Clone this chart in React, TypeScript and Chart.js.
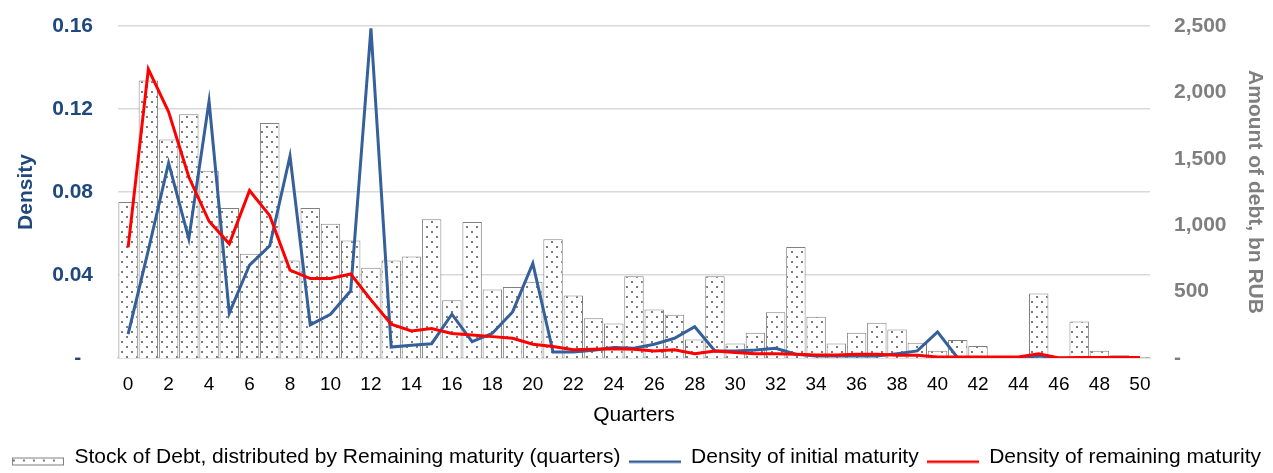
import React, { useEffect, useRef } from 'react';
import { Chart, registerables } from 'chart.js';

Chart.register(...registerables);

const quarters = [
  0, 1, 2, 3, 4, 5, 6, 7, 8, 9, 10, 11, 12, 13, 14, 15, 16, 17, 18, 19, 20,
  21, 22, 23, 24, 25, 26, 27, 28, 29, 30, 31, 32, 33, 34, 35, 36, 37, 38, 39, 40,
  41, 42, 43, 44, 45, 46, 47, 48, 49, 50,
];

// Stock of debt by remaining maturity, bn RUB (right axis)
const stockDebt = [
  1175, 2090, 1645, 1835, 1410, 1130, 785, 1770, 735, 1130, 1010,
  885, 680, 735, 765, 1045, 435, 1025, 515, 535, 575,
  895, 470, 300, 260, 615, 365, 325, 140, 615, 110,
  190, 345, 835, 310, 110, 190, 265, 215, 115, 55,
  135, 90, 3, 6, 485, 10, 275, 55, 20, 5,
];

// Density of initial maturity (left axis)
const densityInitial = [
  0.0115, 0.052, 0.094, 0.0574, 0.1237, 0.0216, 0.0448, 0.0541, 0.0973, 0.016, 0.0211,
  0.0324, 0.1589, 0.0053, 0.0062, 0.0069, 0.0211, 0.0079, 0.0119, 0.0222, 0.0456,
  0.0029, 0.0029, 0.0037, 0.005, 0.0047, 0.0066, 0.0095, 0.0151, 0.0034, 0.0034,
  0.0039, 0.0047, 0.0018, 0.001, 0.001, 0.001, 0.001, 0.0021, 0.0034, 0.0126,
  0.0, 0.0, 0.0, 0.0, 0.001, 0.0, 0.0, 0.0, 0.0, 0.0,
];

// Density of remaining maturity (left axis)
const densityRemaining = [
  0.0533, 0.1392, 0.1186, 0.0872, 0.0659, 0.055, 0.0807, 0.0686, 0.0424, 0.0383, 0.0383,
  0.0405, 0.028, 0.0163, 0.013, 0.0142, 0.0118, 0.0111, 0.0103, 0.0095, 0.0066,
  0.0055, 0.004, 0.0042, 0.0045, 0.0042, 0.0034, 0.004, 0.0021, 0.0034, 0.0026,
  0.0021, 0.0021, 0.0018, 0.0015, 0.0015, 0.0018, 0.0018, 0.0013, 0.0013, 0.0005,
  0.0005, 0.0005, 0.0005, 0.0005, 0.002, 0.0, 0.0003, 0.0003, 0.0003, 0.0003,
];

const leftTicks = [0, 0.04, 0.08, 0.12, 0.16];
const rightTicks = [0, 500, 1000, 1500, 2000, 2500];

const seriesLabels = [
  'Stock of Debt, distributed by Remaining maturity (quarters)',
  'Density of initial maturity',
  'Density of remaining maturity',
];

const BLUE_TEXT = '#1F497D';
const BLUE_LINE = '#36609A';
const RED_LINE = '#FF0000';
const GRAY_TEXT = '#7F7F7F';
const GRID = '#D9D9D9';
const BAR_BORDER = '#808080';
const FONT = '"Liberation Sans", Arial, Helvetica, sans-serif';

function makePattern(): CanvasPattern | string {
  const c = document.createElement('canvas');
  c.width = 10;
  c.height = 10;
  const g = c.getContext('2d');
  if (!g) return '#eeeeee';
  g.fillStyle = '#ffffff';
  g.fillRect(0, 0, 10, 10);
  g.fillStyle = '#7a7a7a';
  g.fillRect(1, 1, 2, 2);
  g.fillRect(6, 6, 2, 2);
  return g.createPattern(c, 'repeat') || '#eeeeee';
}

function legendBoxImage(pattern: CanvasPattern | string): HTMLCanvasElement {
  const c = document.createElement('canvas');
  c.width = 52;
  c.height = 18;
  const g = c.getContext('2d');
  if (g) {
    g.fillStyle = pattern as any;
    g.fillRect(0.5, 9.5, 51, 7);
    g.strokeStyle = BAR_BORDER;
    g.lineWidth = 1;
    g.strokeRect(0.5, 9.5, 51, 7);
  }
  return c;
}

function legendLineImage(color: string): HTMLCanvasElement {
  const c = document.createElement('canvas');
  c.width = 52;
  c.height = 18;
  const g = c.getContext('2d');
  if (g) {
    g.fillStyle = color;
    g.fillRect(0, 12, 52, 2.5);
  }
  return c;
}

export default function App() {
  const canvasRef = useRef<HTMLCanvasElement | null>(null);

  useEffect(() => {
    document.body.style.margin = '0';
    const canvas = canvasRef.current;
    if (!canvas) return;
    Chart.defaults.font.family = FONT;

    const pattern = makePattern();
    const legendImages = [
      legendBoxImage(pattern),
      legendLineImage(BLUE_LINE),
      legendLineImage(RED_LINE),
    ];

    const chart = new Chart(canvas, {
      type: 'bar',
      data: {
        labels: quarters.map(String),
        datasets: [
          {
            type: 'bar',
            label: seriesLabels[0],
            data: stockDebt,
            yAxisID: 'y1',
            backgroundColor: pattern as any,
            borderColor: BAR_BORDER,
            borderWidth: 1,
            barPercentage: 0.96,
            categoryPercentage: 1,
            order: 2,
          },
          {
            type: 'line',
            label: seriesLabels[1],
            data: densityInitial,
            yAxisID: 'y',
            borderColor: BLUE_LINE,
            backgroundColor: BLUE_LINE,
            borderWidth: 3,
            pointRadius: 0,
            tension: 0,
            order: 1,
          },
          {
            type: 'line',
            label: seriesLabels[2],
            data: densityRemaining,
            yAxisID: 'y',
            borderColor: RED_LINE,
            backgroundColor: RED_LINE,
            borderWidth: 3,
            pointRadius: 0,
            tension: 0,
            order: 0,
          },
        ] as any,
      },
      options: {
        responsive: false,
        animation: false,
        devicePixelRatio: 1,
        layout: { padding: { top: 26, bottom: -5, left: 0, right: 0 } },
        plugins: {
          tooltip: { enabled: false },
          legend: {
            position: 'bottom',
            labels: {
              usePointStyle: true,
              pointStyleWidth: 52,
              boxWidth: 52,
              padding: 8,
              color: '#000000',
              font: { size: 21, family: FONT },
              generateLabels: () =>
                seriesLabels.map((text, i) => ({
                  text,
                  datasetIndex: i,
                  pointStyle: legendImages[i] as any,
                  fillStyle: 'rgba(0,0,0,0)',
                  strokeStyle: 'rgba(0,0,0,0)',
                  lineWidth: 0,
                  hidden: false,
                  fontColor: '#000000',
                })),
            },
          },
        },
        scales: {
          x: {
            type: 'category',
            offset: true,
            grid: { display: false, drawTicks: false },
            border: { display: true, color: GRID, width: 1.5 },
            ticks: {
              autoSkip: false,
              maxRotation: 0,
              minRotation: 0,
              padding: 15,
              color: '#000000',
              font: { size: 19, family: FONT },
              callback: (_v: any, i: number) => (i % 2 === 0 ? String(quarters[i]) : ''),
            },
            title: {
              display: true,
              text: 'Quarters',
              color: '#000000',
              font: { size: 21, family: FONT },
              padding: { top: 0, bottom: 11 },
            },
            afterFit: (s: any) => {
              s.height = 81;
            },
          },
          y: {
            type: 'linear',
            position: 'left',
            min: leftTicks[0],
            max: leftTicks[leftTicks.length - 1],
            afterBuildTicks: (s: any) => {
              s.ticks = leftTicks.map((v) => ({ value: v }));
            },
            ticks: {
              padding: 25,
              color: BLUE_TEXT,
              font: { size: 21, weight: 'bold', family: FONT },
              callback: (v: any) => (Number(v) === 0 ? '-  ' : Number(v).toFixed(2)),
            },
            grid: { color: GRID, lineWidth: 1.5, drawTicks: false },
            border: { display: false },
            title: {
              display: true,
              text: 'Density',
              color: BLUE_TEXT,
              font: { size: 21, weight: 'bold', family: FONT },
              padding: { top: 14, bottom: 0 },
            },
            afterFit: (s: any) => {
              s.width = 118;
              s.paddingTop = 12;
              s.paddingBottom = 12;
            },
          },
          y1: {
            type: 'linear',
            position: 'right',
            min: rightTicks[0],
            max: rightTicks[rightTicks.length - 1],
            afterBuildTicks: (s: any) => {
              s.ticks = rightTicks.map((v) => ({ value: v }));
            },
            ticks: {
              padding: 24,
              color: GRAY_TEXT,
              font: { size: 21, weight: 'bold', family: FONT },
              callback: (v: any) => (Number(v) === 0 ? '-' : Number(v).toLocaleString('en-US')),
            },
            grid: { display: false, drawTicks: false },
            border: { display: false },
            title: {
              display: true,
              text: 'Amount of debt, bn RUB',
              color: GRAY_TEXT,
              font: { size: 21, weight: 'bold', family: FONT },
              padding: { top: 6, bottom: 0 },
            },
            afterFit: (s: any) => {
              s.width = 123;
              s.paddingTop = 12;
              s.paddingBottom = 12;
            },
          },
        },
      } as any,
    });

    return () => {
      chart.destroy();
    };
  }, []);

  return (
    <div style={{ width: 1273, height: 473, position: 'relative', background: '#ffffff' }}>
      <canvas ref={canvasRef} width={1273} height={473} style={{ display: 'block' }} />
    </div>
  );
}
